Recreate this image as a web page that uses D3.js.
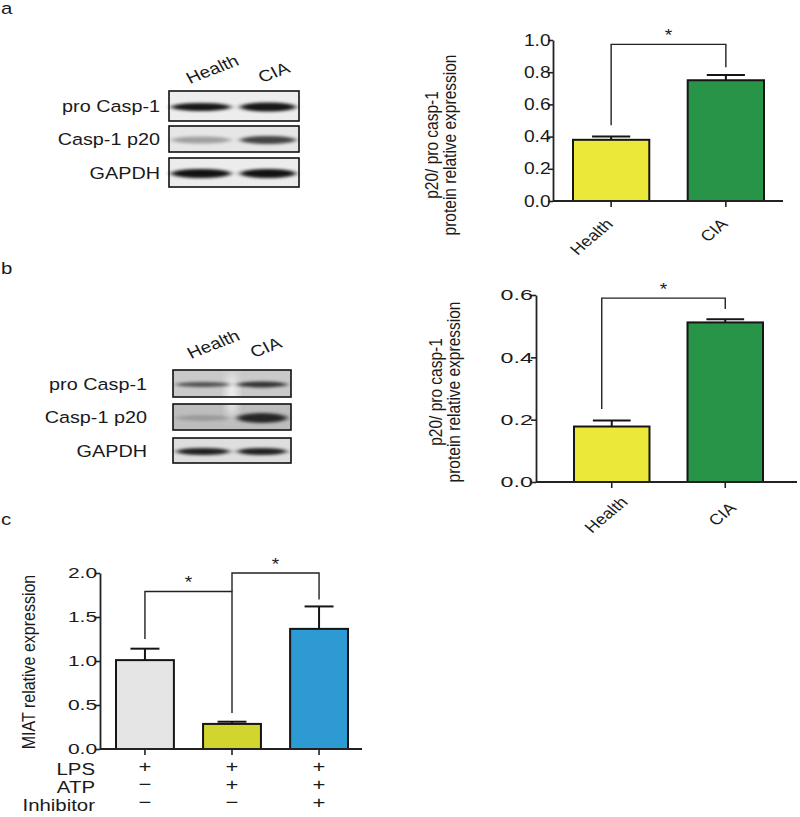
<!DOCTYPE html>
<html><head><meta charset="utf-8">
<script src="https://cdn.jsdelivr.net/npm/d3@7"></script>
<style>body{margin:0;background:#fff} text{font-family:"Liberation Sans",Arial,sans-serif;fill:#1a1a1a}</style>
</head><body><svg id="fig" width="800" height="817"></svg>
<script>
// ---------- data ----------
const groupsAB = ["Health","CIA"];
const valuesA = [0.38, 0.75];
const errorsA = [0.02, 0.033];
const ticksA = [0, 0.2, 0.4, 0.6, 0.8, 1.0];
const valuesB = [0.178, 0.512];
const errorsB = [0.019, 0.01];
const ticksB = [0, 0.2, 0.4, 0.6];
const groupsC = ["g1","g2","g3"];
const valuesC = [1.01, 0.285, 1.365];
const errorsC = [0.13, 0.025, 0.255];
const ticksC = [0, 0.5, 1.0, 1.5, 2.0];
const treatLabels = ["LPS","ATP","Inhibitor"];
const treatLPS = ["+","+","+"];
const treatATP = ["−","+","+"];
const treatInh = ["−","−","+"];
const blotRows = ["pro Casp-1","Casp-1 p20","GAPDH"];
const blotIntensA = [[0.9,0.9],[0.3,0.7],[0.92,0.92]];
const blotIntensB = [[0.6,0.75],[0.18,0.8],[0.85,0.85]];
const yLabelAB = ["p20/ pro casp-1","protein relative expression"];
const yLabelC = "MIAT relative expression";
const bracketsA = [{a:0,b:1,top:0.973,l:0.47,r:0.83}];
const bracketsB = [{a:0,b:1,top:0.59,l:0.234,r:0.555}];
const bracketsC = [{a:0,b:1,top:1.79,l:1.25,r:0.41},{a:1,b:2,top:2.0,l:1.79,r:1.70}];
const colorsAB = ["#ece83a","#279447"];
const colorsC = ["#e5e5e5","#d3d52f","#2e9ad3"];

// ---------- helpers ----------
const svg = d3.select("#fig");
const defs = svg.append("defs");
defs.append("filter").attr("id","blur").attr("x","-30%").attr("y","-100%").attr("width","160%").attr("height","300%")
  .append("feGaussianBlur").attr("stdDeviation","3 1.6");
defs.append("filter").attr("id","blur2").attr("x","-50%").attr("y","-50%").attr("width","200%").attr("height","200%")
  .append("feGaussianBlur").attr("stdDeviation","4 6");

function txt(g, s, x, y, size, anchor, rot, sx){
  sx = sx || 1.2;
  return g.append("text").attr("transform",`translate(${x},${y}) scale(${sx},1)` + (rot ? ` rotate(${rot})` : ""))
    .attr("font-size", size).attr("text-anchor", anchor || "start").text(s);
}

function barChart(o){
  const g = svg.append("g");
  const x = d3.scaleBand().domain(o.groups).range(o.barRange).paddingInner(0.335).paddingOuter(0);
  const y = d3.scaleLinear().domain(o.yDomain).range(o.yRange);
  const bw = x.bandwidth();
  g.selectAll("rect.bar").data(o.values).join("rect").attr("class","bar")
    .attr("x",(d,i)=>x(o.groups[i])).attr("width",bw)
    .attr("y",d=>y(d)).attr("height",d=>y(0)-y(d))
    .attr("fill",(d,i)=>o.colors[i]).attr("stroke","#151515").attr("stroke-width",2);
  o.values.forEach((v,i)=>{
    const cx = x(o.groups[i]) + bw/2;
    g.append("line").attr("x1",cx).attr("x2",cx).attr("y1",y(v)).attr("y2",y(v+o.errors[i]))
      .attr("stroke","#151515").attr("stroke-width",2);
    g.append("line").attr("x1",cx-bw/4).attr("x2",cx+bw/4).attr("y1",y(v+o.errors[i])).attr("y2",y(v+o.errors[i]))
      .attr("stroke","#151515").attr("stroke-width",2);
  });
  const ya = g.append("g").attr("transform",`translate(${o.yAxisX},0)`)
    .call(d3.axisLeft(y).tickValues(o.ticks).tickFormat(d3.format(".1f")).tickSizeInner(5).tickSizeOuter(0).tickPadding(-3));
  ya.select(".domain").attr("stroke","#222").attr("stroke-width",1.8);
  ya.selectAll(".tick line").attr("stroke","#222").attr("stroke-width",1.6);
  ya.selectAll(".tick text").attr("font-size",o.tickSize).attr("font-family","Liberation Sans, Arial, sans-serif")
    .attr("fill","#1a1a1a").attr("transform",`scale(${o.tickSX},1)`);
  const xa = g.append("g").attr("transform",`translate(0,${y(0)})`)
    .call(d3.axisBottom(x).tickFormat("").tickSizeInner(6).tickSizeOuter(0));
  xa.select(".domain").remove();
  xa.selectAll(".tick line").attr("stroke","#222").attr("stroke-width",1.6);
  g.append("line").attr("x1",o.yAxisX).attr("x2",o.xAxisEnd).attr("y1",y(0)).attr("y2",y(0))
    .attr("stroke","#222").attr("stroke-width",1.8);
  o.brackets.forEach((b,k)=>{
    const xl = x(o.groups[b.a]) + bw/2 + (k===0 ? (o.leftShift||0) : 0);
    const xr = x(o.groups[b.b]) + bw/2;
    g.append("path").attr("d",`M${xl},${y(b.l)}V${y(b.top)}H${xr}V${y(b.r)}`)
      .attr("fill","none").attr("stroke","#222").attr("stroke-width",1.4);
    txt(g,"*",(xl+xr)/2,y(b.top)-3,16,"middle");
  });
  return {g,x,y,bw};
}

function blot(x0, x1, rows, lanes, intens, bandH, bgs, labelX, laneLabels){
  const g = svg.append("g");
  const bg = g.append("g"), bands = g.append("g"), frames = g.append("g");
  rows.forEach((r,i)=>{
    bg.append("rect").attr("x",x0).attr("y",r[0]).attr("width",x1-x0).attr("height",r[1]-r[0])
      .attr("fill",bgs[i]);
    intens[i].forEach((v,j)=>{
      bands.append("ellipse").attr("cx",lanes[j][0]).attr("cy",(r[0]+r[1])/2+1).attr("rx",lanes[j][1]).attr("ry",bandH[i][j])
        .attr("fill","#000").attr("opacity",v).attr("filter","url(#blur)");
    });
    frames.append("rect").attr("x",x0).attr("y",r[0]).attr("width",x1-x0).attr("height",r[1]-r[0])
      .attr("fill","none").attr("stroke","#111").attr("stroke-width",1.6);
    txt(g, blotRows[i], labelX, (r[0]+r[1])/2+6, 16.5, "end");
  });
  laneLabels.forEach(l=>txt(g,l.t,l.x,l.y,16,"start",-25));
  return {g,bg};
}

// ---------- panel letters ----------
txt(svg,"a",1,14,17,"start");
txt(svg,"b",1,274,17,"start");
txt(svg,"c",1,525,17,"start");

// ---------- panel a blot ----------
blot(169,299,[[91,121],[126,152],[158,187]],[[201,30],[268,28]],blotIntensA,
  [[4,4.5],[3.5,4],[4.5,4.5]],["#ededed","#e6e6e6","#ececec"],160,
  [{t:groupsAB[0],x:190,y:84},{t:groupsAB[1],x:262,y:83}]);

// ---------- panel b blot ----------
const bb = blot(173,291,[[370,397],[404,430],[438,463]],[[203,27],[262,25]],blotIntensB,
  [[2.5,3],[3,5],[3.5,3.5]],["#c9c9c9","#bdbdbd","#dedede"],147,
  [{t:groupsAB[0],x:191,y:359},{t:groupsAB[1],x:254,y:358}]);
bb.bg.append("ellipse").attr("cx",232).attr("cy",395).attr("rx",5).attr("ry",22)
  .attr("fill","#fff").attr("opacity",0.85).attr("filter","url(#blur2)");

// ---------- chart a ----------
const A = barChart({groups:groupsAB, values:valuesA, errors:errorsA, colors:colorsAB, ticks:ticksA,
  yDomain:[0,1], yRange:[201,40], barRange:[573,764], yAxisX:553, xAxisEnd:783, brackets:bracketsA, tickSize:16, tickSX:1.2});
groupsAB.forEach((gname)=>txt(A.g,gname,A.x(gname)+A.bw/2+3,225,15,"end",-45));
yLabelAB.forEach((s,i)=>txt(A.g,s,438+i*18,145,15.5,"middle",-90));

// ---------- chart b ----------
const B = barChart({groups:groupsAB, values:valuesB, errors:errorsB, colors:colorsAB, ticks:ticksB,
  yDomain:[0,0.6], yRange:[482,295], barRange:[574,763], yAxisX:536, xAxisEnd:797, brackets:bracketsB, tickSize:15, tickSX:1.55, leftShift:-10});
groupsAB.forEach((gname,i)=>txt(B.g,gname,B.x(gname)+B.bw/2+(i?12:17),i?509:503,15,"end",-45));
yLabelAB.forEach((s,i)=>txt(B.g,s,442+i*18,392,15.5,"middle",-90));

// ---------- chart c ----------
const C = barChart({groups:groupsC, values:valuesC, errors:errorsC, colors:colorsC, ticks:ticksC,
  yDomain:[0,2], yRange:[749,573], barRange:[116,348], yAxisX:100, xAxisEnd:362, brackets:bracketsC, tickSize:14.5, tickSX:1.45});
txt(C.g,yLabelC,35,662,16,"middle",-90);
const treatRows = [treatLPS, treatATP, treatInh];
const rowY = [775, 793, 811];
treatLabels.forEach((l,i)=>{
  txt(C.g,l,95,rowY[i],17,"end");
  treatRows[i].forEach((s,j)=>txt(C.g,s,C.x(groupsC[j])+C.bw/2,rowY[i]-3,17,"middle",0,1.3));
});
</script></body></html>
